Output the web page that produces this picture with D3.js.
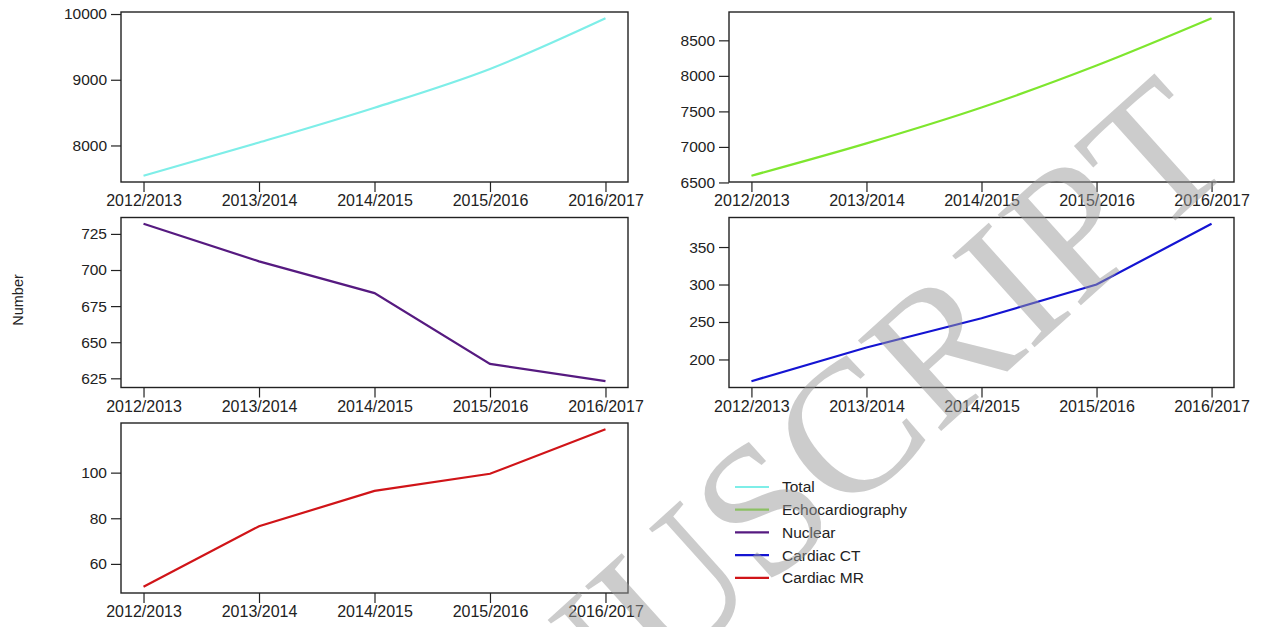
<!DOCTYPE html>
<html>
<head>
<meta charset="utf-8">
<script src="https://cdn.jsdelivr.net/npm/d3@7"></script>
<style>
  body { margin: 0; background: #fff; }
  svg { display: block; font-family: "Liberation Sans", Arial, sans-serif; }
</style>
</head>
<body>
<div id="chart"></div>
<script>
const years = ["2012/2013", "2013/2014", "2014/2015", "2015/2016", "2016/2017"];

const total = [7540, 8045, 8575, 9165, 9935];
const echo = [6595, 7050, 7555, 8145, 8810];
const nuclear = [732, 706, 684, 635, 623];
const cardiacCT = [171, 216, 255, 300, 381];
const cardiacMR = [50, 76.5, 92, 99.5, 119];

const totalTicks = [8000, 9000, 10000];
const echoTicks = [6500, 7000, 7500, 8000, 8500];
const nuclearTicks = [625, 650, 675, 700, 725];
const ctTicks = [200, 250, 300, 350];
const mrTicks = [60, 80, 100];

const seriesNames = ["Total", "Echocardiography", "Nuclear", "Cardiac CT", "Cardiac MR"];
const colors = ["#7eeee8", "#7ee62e", "#561a80", "#1414d2", "#d01418"];

const width = 1264, height = 627;

const svg = d3.select("#chart").append("svg")
    .attr("width", width)
    .attr("height", height);

// panel boxes: [left, right] per column, top per row
const colX = [[121, 628], [729, 1234]];
const rowY = [12, 217.5, 423];
const panelH = 170;

const panels = [
  {values: total, ticks: totalTicks, col: 0, row: 0, color: colors[0], curve: d3.curveMonotoneX},
  {values: echo, ticks: echoTicks, col: 1, row: 0, color: colors[1], curve: d3.curveMonotoneX},
  {values: nuclear, ticks: nuclearTicks, col: 0, row: 1, color: colors[2], curve: d3.curveLinear},
  {values: cardiacCT, ticks: ctTicks, col: 1, row: 1, color: colors[3], curve: d3.curveLinear},
  {values: cardiacMR, ticks: mrTicks, col: 0, row: 2, color: colors[4], curve: d3.curveLinear}
];

panels.forEach(p => {
  const [x0, x1] = colX[p.col];
  const y0 = rowY[p.row], y1 = y0 + panelH;

  const x = d3.scalePoint().domain(years).range([x0, x1]).padding(0.195);
  const lo = d3.min(p.values), hi = d3.max(p.values);
  const pad = (hi - lo) * 0.04;
  const y = d3.scaleLinear().domain([lo - pad, hi + pad]).range([y1, y0]);

  const g = svg.append("g");

  const xAxis = g.append("g")
      .attr("transform", `translate(0,${y1})`)
      .call(d3.axisBottom(x).tickSize(10).tickPadding(3).tickSizeOuter(0));
  xAxis.select(".domain").remove();
  xAxis.selectAll("text").attr("font-size", 16).attr("fill", "#222");
  xAxis.selectAll("line").attr("stroke", "#222").attr("stroke-width", 1.2);

  const yAxis = g.append("g")
      .attr("transform", `translate(${x0},0)`)
      .call(d3.axisLeft(y).tickValues(p.ticks).tickSize(10).tickPadding(4).tickFormat(d3.format("d")));
  yAxis.select(".domain").remove();
  yAxis.selectAll("text").attr("font-size", 15.5).attr("fill", "#222");
  yAxis.selectAll("line").attr("stroke", "#222").attr("stroke-width", 1.2);

  g.append("path")
      .datum(p.values)
      .attr("fill", "none")
      .attr("stroke", p.color)
      .attr("stroke-width", 2.2)
      .attr("d", d3.line().x((d, i) => x(years[i])).y(d => y(d)).curve(p.curve));

  g.append("rect")
      .attr("x", x0).attr("y", y0)
      .attr("width", x1 - x0).attr("height", panelH)
      .attr("fill", "none")
      .attr("stroke", "#222")
      .attr("stroke-width", 1.4);
});

// y title
svg.append("text")
    .attr("transform", "translate(23,300) rotate(-90)")
    .attr("text-anchor", "middle")
    .attr("font-size", 14.5)
    .attr("fill", "#222")
    .text("Number");

// legend
const legend = svg.append("g").attr("transform", "translate(735,487)");
seriesNames.forEach((name, i) => {
  const row = legend.append("g").attr("transform", `translate(0,${i * 22.7})`);
  row.append("line")
      .attr("x1", 0).attr("x2", 34)
      .attr("stroke", colors[i])
      .attr("stroke-width", 2.2);
  row.append("text")
      .attr("x", 47).attr("dy", "0.35em")
      .attr("font-size", 15.5)
      .attr("fill", "#222")
      .text(name);
});

// watermark
svg.append("text")
    .attr("transform", "translate(1239,163) rotate(-42)")
    .attr("text-anchor", "end")
    .attr("font-family", "'Liberation Serif', 'Times New Roman', serif")
    .attr("font-size", 188)
    .attr("fill", "#9a9a9a")
    .attr("fill-opacity", 0.5)
    .text("ACCEPTED MANUSCRIPT");
</script>
</body>
</html>
